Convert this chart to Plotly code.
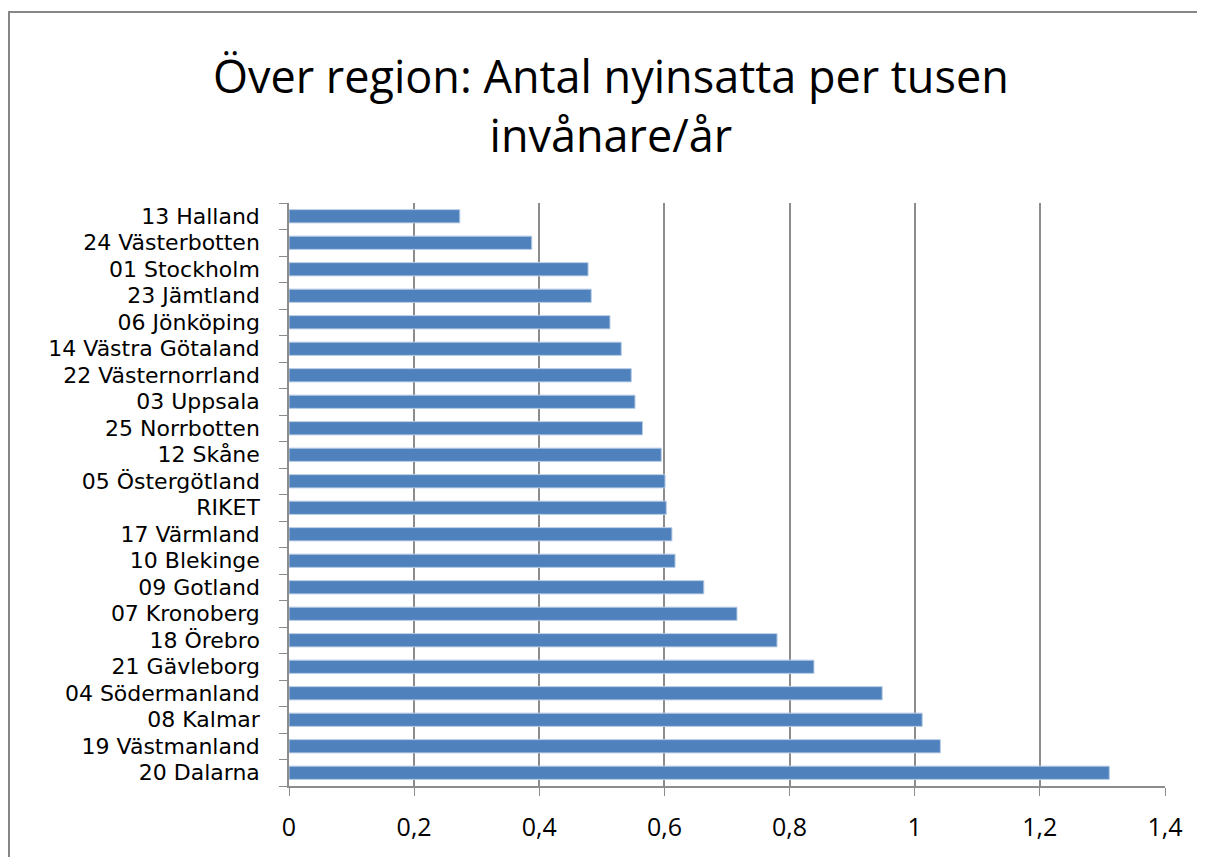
import plotly.graph_objects as go

regions = [
    "13 Halland", "24 Västerbotten", "01 Stockholm", "23 Jämtland", "06 Jönköping",
    "14 Västra Götaland", "22 Västernorrland", "03 Uppsala", "25 Norrbotten", "12 Skåne",
    "05 Östergötland", "RIKET", "17 Värmland", "10 Blekinge", "09 Gotland",
    "07 Kronoberg", "18 Örebro", "21 Gävleborg", "04 Södermanland", "08 Kalmar",
    "19 Västmanland", "20 Dalarna",
]
values = [
    0.273, 0.388, 0.478, 0.483, 0.513,
    0.531, 0.547, 0.553, 0.565, 0.595,
    0.601, 0.603, 0.612, 0.617, 0.663,
    0.716, 0.780, 0.839, 0.948, 1.012,
    1.041, 1.311,
]
x_ticks = [0, 0.2, 0.4, 0.6, 0.8, 1.0, 1.2, 1.4]
title_text = "Över region: Antal nyinsatta per tusen<br>invånare/år"

FONT = "Open Sans, Carlito, Calibri, sans-serif"
LABEL_FONT = "DejaVu Sans, sans-serif"

# page has an 8px body margin: figure origin is at page (8, 8)
L, T = 281, 195          # plot area top-left in figure coords
PW, PH = 876, 583        # plot area size
W, H = 1197, 849

fig = go.Figure(
    go.Bar(
        x=values,
        y=regions,
        orientation="h",
        marker=dict(color="#4F81BD", line=dict(color="#B9CDE5", width=1)),
    )
)

fig.update_layout(
    width=W,
    height=H,
    margin=dict(l=L, r=W - L - PW, t=T, b=H - T - PH),
    paper_bgcolor="white",
    plot_bgcolor="white",
    separators=", ",
    showlegend=False,
    bargap=0.5,
    font=dict(family=FONT, color="#000000", size=24),
    annotations=[
        dict(
            text=title_text,
            xref="paper", yref="paper",
            x=(603 - L) / PW, y=1 + (T - 97) / PH,
            xanchor="center", yanchor="middle",
            showarrow=False,
            font=dict(family=FONT, size=45, color="#000000"),
        )
    ],
    shapes=[
        dict(
            type="rect", xref="paper", yref="paper",
            x0=(1 - L) / PW, x1=(W + 20 - L) / PW,
            y0=-(H + 20 - T - PH) / PH, y1=1 + (T - 4) / PH,
            line=dict(color="#868686", width=2),
            fillcolor="rgba(0,0,0,0)",
            layer="below",
        )
    ],
)

fig.update_xaxes(
    range=[0, 1.4],
    tickvals=x_ticks,
    showgrid=True,
    gridcolor="#8c8c8c",
    gridwidth=1.5,
    showline=True,
    linecolor="#8c8c8c",
    linewidth=1.5,
    ticks="outside",
    ticklen=8,
    tickcolor="#8c8c8c",
    ticklabelstandoff=10,
    zeroline=False,
    tickfont=dict(family=FONT, size=25, color="#000000"),
)

fig.update_yaxes(
    autorange="reversed",
    tickmode="array",
    tickvals=regions,
    ticktext=regions,
    showline=True,
    linecolor="#8c8c8c",
    linewidth=1.5,
    ticks="outside",
    tickson="boundaries",
    ticklen=8,
    tickcolor="#8c8c8c",
    ticklabelstandoff=23,
    showgrid=False,
    tickfont=dict(family=LABEL_FONT, size=22, color="#000000"),
)

fig.write_html("out.html")
